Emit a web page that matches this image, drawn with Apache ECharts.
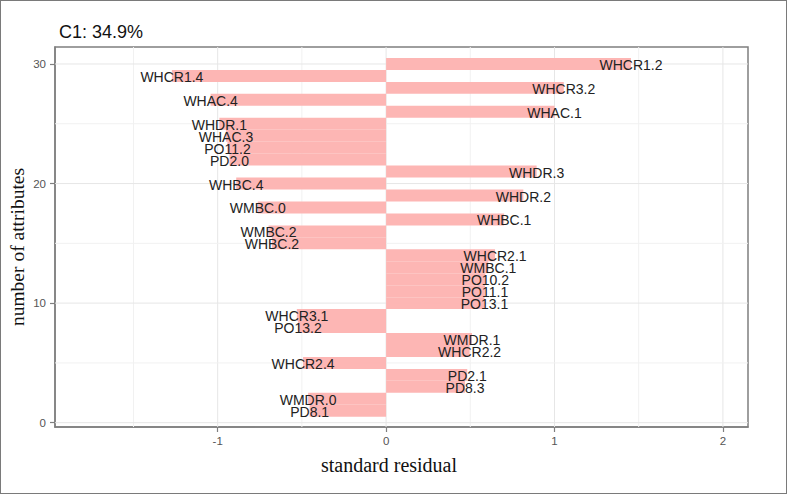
<!DOCTYPE html>
<html>
<head>
<meta charset="utf-8">
<script src="https://cdn.jsdelivr.net/npm/echarts@6/dist/echarts.min.js"></script>
<style>
html,body{margin:0;padding:0;background:#fff;}
#wrap{position:relative;width:787px;height:494px;}
#chart{position:absolute;left:0;top:0;width:787px;height:494px;}
#frame{position:absolute;left:0;top:0;width:787px;height:494px;box-sizing:border-box;border:1px solid #7a7a7a;pointer-events:none;}
</style>
</head>
<body>
<div id="wrap"><div id="chart"></div><div id="frame"></div></div>
<script>
// ---- data (bottom to top) ----
const attributes = ['PD8.1','WMDR.0','PD8.3','PD2.1','WHCR2.4','WHCR2.2','WMDR.1','PO13.2','WHCR3.1','PO13.1',
  'PO11.1','PO10.2','WMBC.1','WHCR2.1','WHBC.2','WMBC.2','WHBC.1','WMBC.0','WHDR.2','WHBC.4',
  'WHDR.3','PD2.0','PO11.2','WHAC.3','WHDR.1','WHAC.1','WHAC.4','WHCR3.2','WHCR1.4','WHCR1.2'];
const ranks = [1,2,3,4,5,6,7,8,9,10,11,12,13,14,15,16,17,18,19,20,21,22,23,24,25,26,27,28,29,30];
const residuals = [-0.454,-0.463,0.469,0.482,-0.493,0.496,0.510,-0.523,-0.530,0.584,
  0.587,0.589,0.607,0.647,-0.678,-0.698,0.701,-0.762,0.815,-0.890,
  0.894,-0.930,-0.942,-0.951,-0.990,1.000,-1.042,1.055,-1.272,1.454];
const xTicks = [-1,0,1,2];
const yTicks = [0,10,20,30];
const xMinor = [-1.5,-0.5,0.5,1.5];
const yMinor = [5,15,25];
const titleText = 'C1: 34.9%';
const xTitle = 'standard residual';
const yTitle = 'number of attributes';

const X_MIN = -1.966, X_MAX = 2.149, Y_MIN = -0.36, Y_MAX = 31.42;

const barData = residuals.map((v, i) => [v, ranks[i], attributes[i]]);
const vGrid = xTicks.map(v => [v, 0, 'major']).concat(xMinor.map(v => [v, 0, 'minor']));
const hGrid = yTicks.map(v => [0, v, 'major']).concat(yMinor.map(v => [0, v, 'minor']));

const chart = echarts.init(document.getElementById('chart'), null, {renderer: 'svg'});

const tickStyle = {color: '#7f7f7f', width: 1.2};
chart.setOption({
  animation: false,
  backgroundColor: '#ffffff',
  title: {
    text: titleText, left: 54, top: 18,
    textStyle: {fontFamily: 'Liberation Sans, Arial, sans-serif', fontSize: 18, fontWeight: 'normal', color: '#111'}
  },
  grid: {left: 55, top: 47, right: 39, bottom: 67, show: true, borderColor: '#7f7f7f', borderWidth: 1.5, backgroundColor: 'transparent'},
  xAxis: {
    type: 'value', min: X_MIN, max: X_MAX,
    axisLine: {show: true, onZero: false, lineStyle: {color: '#7f7f7f', width: 1.5}},
    axisTick: {show: true, length: 5, customValues: xTicks, lineStyle: tickStyle},
    axisLabel: {customValues: xTicks, margin: 8, color: '#555', fontSize: 11.5, fontFamily: 'Liberation Sans, Arial, sans-serif'},
    splitLine: {show: false}
  },
  yAxis: {
    type: 'value', min: Y_MIN, max: Y_MAX,
    axisLine: {show: true, onZero: false, lineStyle: {color: '#7f7f7f', width: 1.5}},
    axisTick: {show: true, length: 5, customValues: yTicks, lineStyle: tickStyle},
    axisLabel: {customValues: yTicks, margin: 9, color: '#555', fontSize: 11.5, fontFamily: 'Liberation Sans, Arial, sans-serif'},
    splitLine: {show: false}
  },
  graphic: [
    {type: 'text', x: 389, y: 465, style: {text: xTitle, align: 'center', verticalAlign: 'middle', fontFamily: 'Liberation Serif, Times New Roman, serif', fontSize: 20, fill: '#111'}},
    {type: 'text', x: 17, y: 247, rotation: Math.PI / 2, style: {text: yTitle, align: 'center', verticalAlign: 'middle', fontFamily: 'Liberation Serif, Times New Roman, serif', fontSize: 19.5, fill: '#111'}}
  ],
  series: [
    {
      type: 'custom', z: 1, silent: true, data: vGrid,
      renderItem: function (params, api) {
        const cs = params.coordSys;
        const x = api.coord([api.value(0), 0])[0];
        const major = vGrid[params.dataIndex][2] === 'major';
        return {type: 'line', shape: {x1: x, y1: cs.y, x2: x, y2: cs.y + cs.height},
          style: {stroke: major ? '#e6e6e6' : '#f1f1f1', lineWidth: 1}};
      }
    },
    {
      type: 'custom', z: 1, silent: true, data: hGrid,
      renderItem: function (params, api) {
        const cs = params.coordSys;
        const y = api.coord([0, api.value(1)])[1];
        const major = hGrid[params.dataIndex][2] === 'major';
        return {type: 'line', shape: {x1: cs.x, y1: y, x2: cs.x + cs.width, y2: y},
          style: {stroke: major ? '#e6e6e6' : '#f1f1f1', lineWidth: 1}};
      }
    },
    {
      type: 'custom', z: 2, silent: true, data: barData,
      encode: {x: 0, y: 1},
      renderItem: function (params, api) {
        const v = api.value(0), p = api.value(1);
        const a = api.coord([0, p]);
        const b = api.coord([v, p]);
        const h = api.size([0, 1])[1];
        return {type: 'rect', shape: {x: Math.min(a[0], b[0]), y: a[1] - h / 2, width: Math.abs(b[0] - a[0]), height: h},
          style: {fill: '#fdb6b4'}};
      }
    },
    {
      type: 'custom', z: 3, silent: true, data: barData,
      encode: {x: 0, y: 1},
      renderItem: function (params, api) {
        const pt = api.coord([api.value(0), api.value(1)]);
        return {type: 'text', x: pt[0], y: pt[1] + 1,
          style: {text: barData[params.dataIndex][2], align: 'center', verticalAlign: 'middle',
            fontFamily: 'Liberation Sans, Arial, sans-serif', fontSize: 14, fill: '#222'}};
      }
    }
  ]
});
</script>
</body>
</html>
